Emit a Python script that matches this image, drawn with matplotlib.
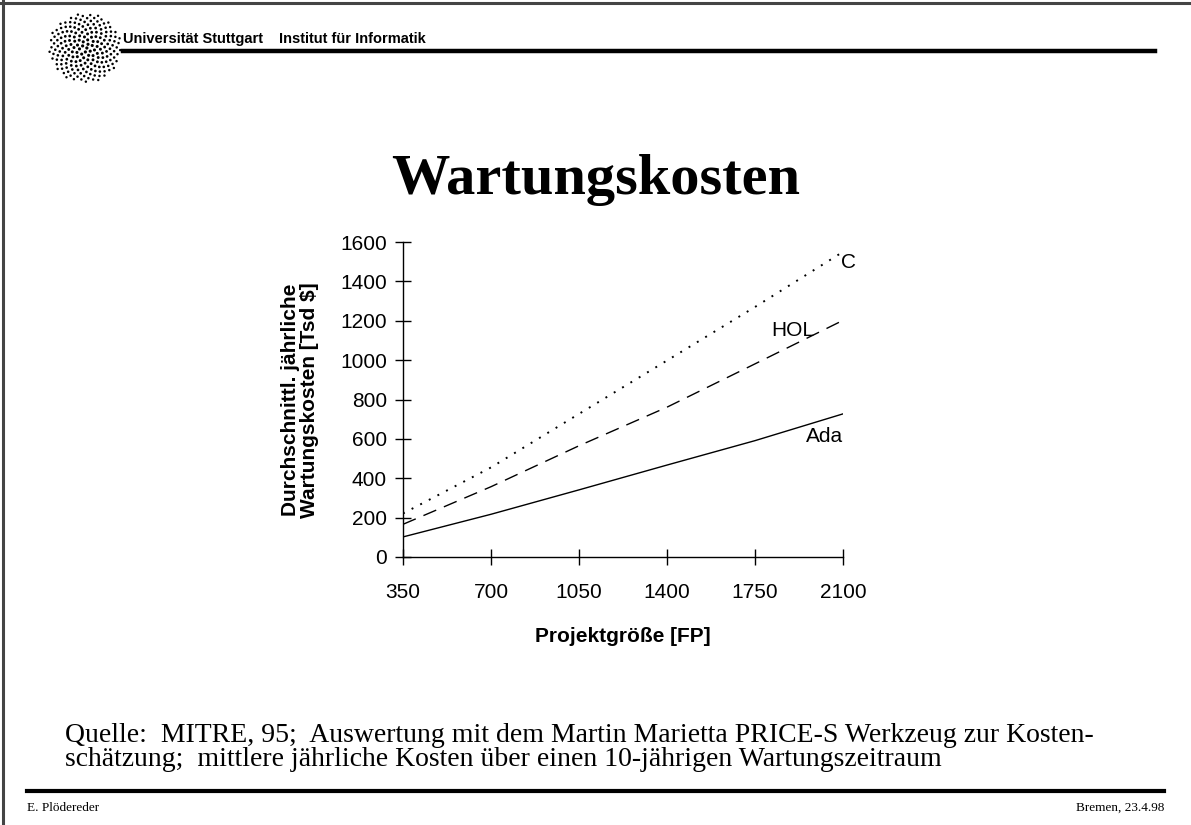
import matplotlib
matplotlib.use('agg')
import matplotlib.pyplot as plt
import numpy as np
from matplotlib.lines import Line2D

# chart data
projekt_fp = [350, 700, 1050, 1400, 1750, 2100]
kosten_ada = [102, 217, 341, 467, 591, 727]
kosten_hol = [166, 357, 565, 761, 981, 1202]
kosten_c = [221, 455, 727, 998, 1270, 1550]
y_ticks = [0, 200, 400, 600, 800, 1000, 1200, 1400, 1600]

W, H = 1191, 825
fig = plt.figure(figsize=(W / 100, H / 100), dpi=100)

sans = 'Liberation Sans'
serif = 'Liberation Serif'

# page frame (top and left only)
fig.add_artist(Line2D([0, 1], [1 - 3 / H, 1 - 3 / H], color='#444444', lw=2.2))
fig.add_artist(Line2D([3 / W, 3 / W], [0, 1], color='#444444', lw=2.2))

# header rule and texts
fig.add_artist(Line2D([123 / W, 1155 / W], [1 - 51 / H, 1 - 51 / H], color='black', lw=3.2))
fig.text(123 / W, 1 - 39 / H, 'Universität Stuttgart', family=sans, weight='bold',
         fontsize=10.5, va='center', ha='left')
fig.text(279 / W, 1 - 39 / H, 'Institut für Informatik', family=sans, weight='bold',
         fontsize=10.5, va='center', ha='left')

# university logo, a dotted disc
logo = fig.add_axes([45 / W, 1 - 86 / H, 80 / W, 76 / H])
logo.set_xlim(-1.1, 1.1)
logo.set_ylim(-1.1, 1.1)
logo.axis('off')
n = 190
k = np.arange(n)
r = np.sqrt((k + 0.5) / n)
a = k * np.pi * (3 - np.sqrt(5))
logo.scatter(r * np.cos(a), r * np.sin(a), s=5.5 - 2.5 * r, color='black', linewidths=0)

# title
fig.text(0.5, 1 - 180 / H, 'Wartungskosten', family=serif, weight='bold',
         fontsize=42, ha='center', va='center')

# main chart
ax = fig.add_axes([403 / W, 1 - 557 / H, 440 / W, 315 / H])
ax.plot(projekt_fp, kosten_ada, color='black', lw=1.0, ls='-')
ax.plot(projekt_fp, kosten_hol, color='black', lw=1.0, ls=(0, (10, 6)))
ax.plot(projekt_fp, kosten_c, color='black', lw=1.4, ls=(0, (1, 4)))
ax.set_xlim(350, 2100)
ax.set_ylim(0, 1600)
ax.set_xticks(projekt_fp)
ax.set_yticks(y_ticks)
for s in ['top', 'right']:
    ax.spines[s].set_visible(False)
for s in ['left', 'bottom']:
    ax.spines[s].set_linewidth(1.0)
ax.tick_params(direction='inout', length=11, width=1.0, labelsize=15, pad=6)
for lab in ax.get_xticklabels() + ax.get_yticklabels():
    lab.set_family(sans)
ax.tick_params(axis='x', pad=13)
ax.patch.set_visible(False)

ax.text(2120, 1498, 'C', family=sans, fontsize=15, ha='center', va='center')
ax.text(1901, 1153, 'HOL', family=sans, fontsize=15, ha='center', va='center')
ax.text(2028, 610, 'Ada', family=sans, fontsize=15, ha='center', va='center')

fig.text(623 / W, 1 - 637 / H, 'Projektgröße [FP]', family=sans, weight='bold',
         fontsize=15, ha='center', va='center')
fig.text(300 / W, 1 - 400 / H, 'Durchschnittl. jährliche\nWartungskosten [Tsd $]',
         family=sans, weight='bold', fontsize=15, ha='center', va='center',
         rotation=90, linespacing=1.05)

# source note
fig.text(65 / W, 1 - 735 / H,
         'Quelle:  MITRE, 95;  Auswertung mit dem Martin Marietta PRICE-S Werkzeug zur Kosten-',
         family=serif, fontsize=20, ha='left', va='center')
fig.text(65 / W, 1 - 760 / H,
         'schätzung;  mittlere jährliche Kosten über einen 10-jährigen Wartungszeitraum',
         family=serif, fontsize=20, ha='left', va='center')

# footer
fig.add_artist(Line2D([27 / W, 1164 / W], [1 - 791 / H, 1 - 791 / H], color='black', lw=3.0))
fig.text(27 / W, 1 - 808 / H, 'E. Plödereder', family=serif, fontsize=9.5,
         ha='left', va='center')
fig.text(1164 / W, 1 - 808 / H, 'Bremen, 23.4.98', family=serif, fontsize=9.5,
         ha='right', va='center')

plt.savefig('out.png', dpi=100)
